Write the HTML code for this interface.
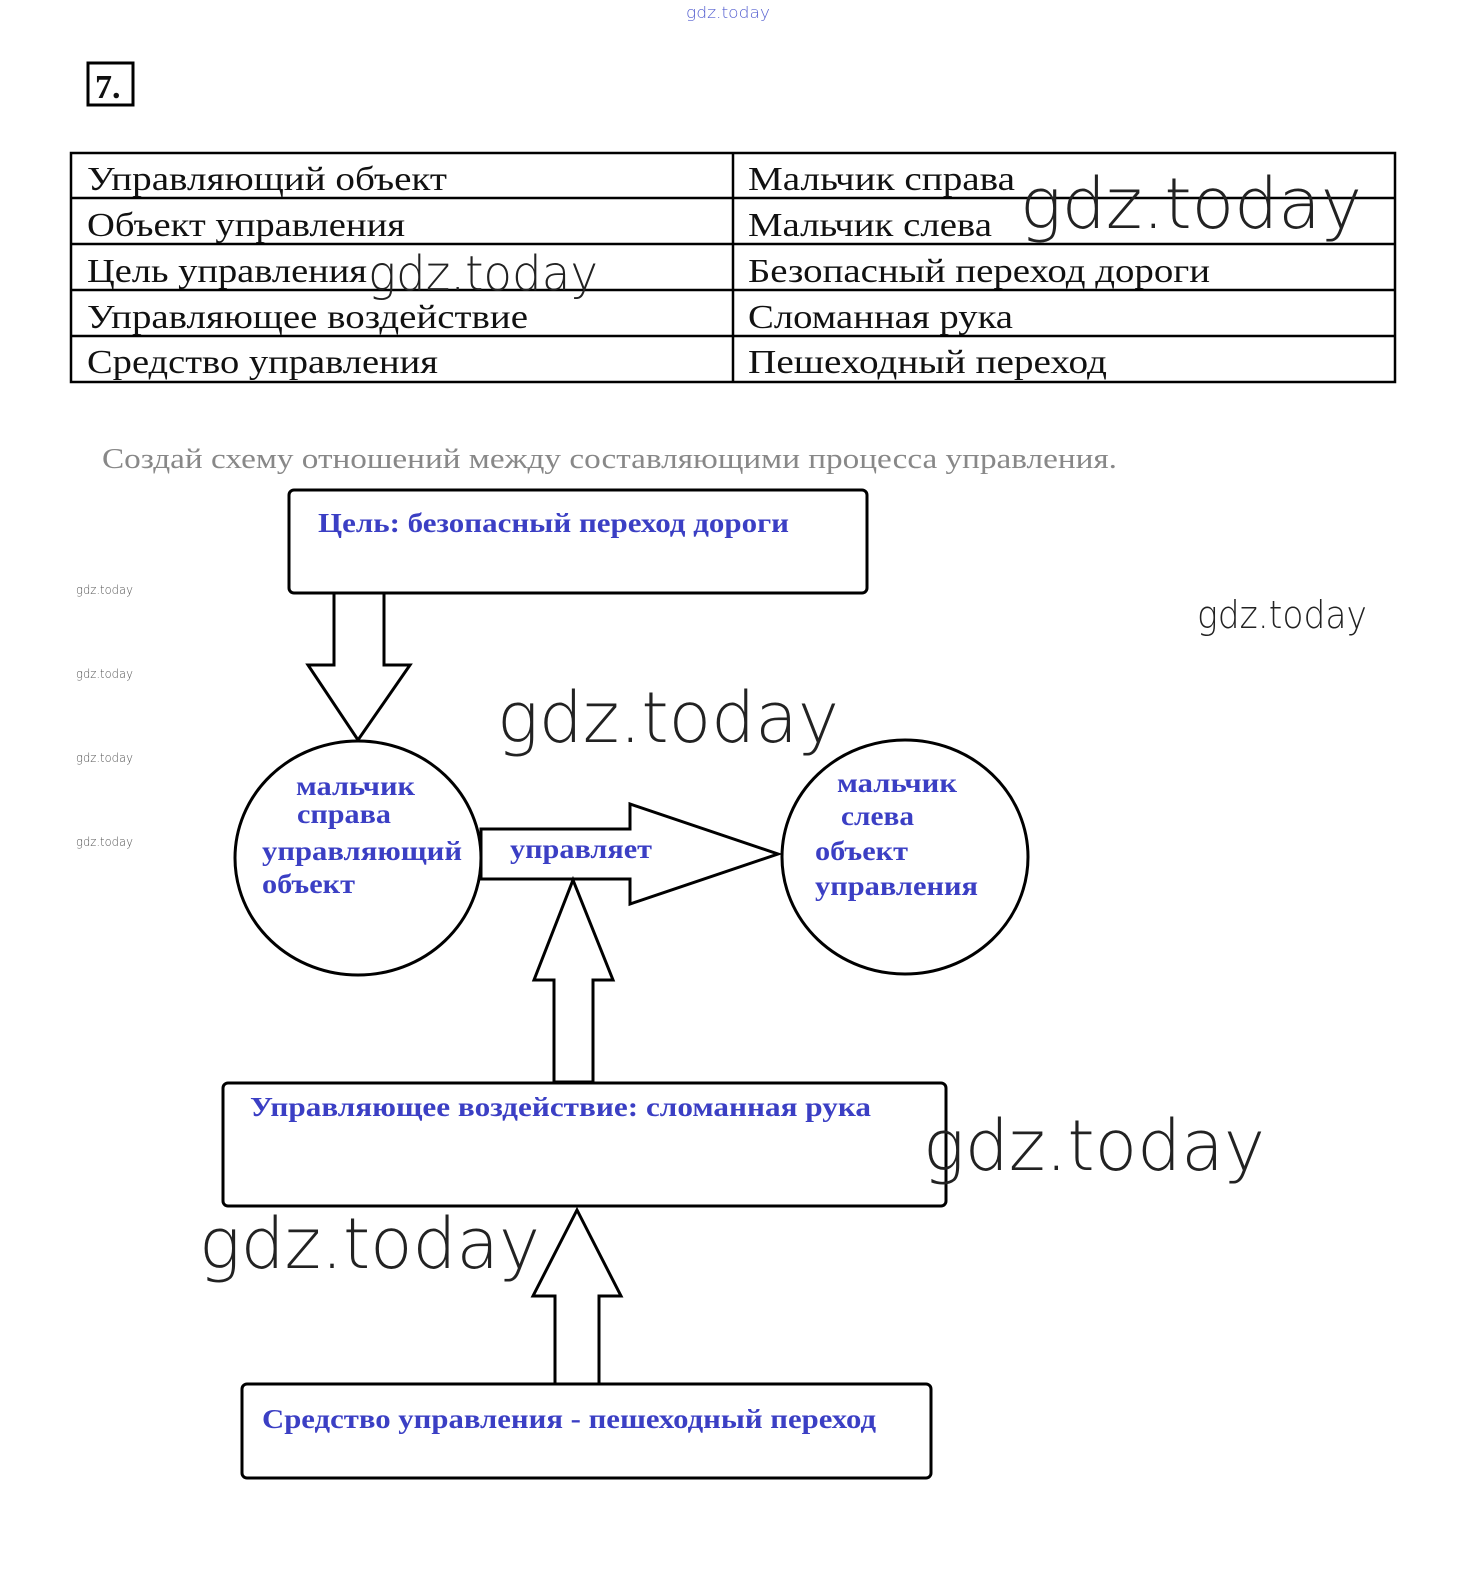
<!DOCTYPE html>
<html><head><meta charset="utf-8"><style>html,body{margin:0;padding:0;background:#fff;overflow:hidden;width:1460px;height:1574px}svg{display:block;position:absolute;left:0;top:0}</style></head><body>
<svg width="1460" height="1574" viewBox="0 0 1460 1574" xmlns="http://www.w3.org/2000/svg">
<g font-family="'Liberation Serif',serif" font-size="34" fill="#111">
<rect x="88" y="63" width="45" height="42" fill="none" stroke="#000" stroke-width="3"/>
<text x="95" y="98" font-weight="bold" font-size="34">7.</text>
<g stroke="#000" stroke-width="2.5" fill="none">
<rect x="71" y="153" width="1324" height="229"/>
<line x1="71" y1="198" x2="1395" y2="198"/><line x1="71" y1="244" x2="1395" y2="244"/>
<line x1="71" y1="290" x2="1395" y2="290"/><line x1="71" y1="336" x2="1395" y2="336"/>
<line x1="733" y1="153" x2="733" y2="382"/>
</g>
<text x="87" y="190" textLength="360" lengthAdjust="spacingAndGlyphs">Управляющий объект</text>
<text x="748" y="190" textLength="267" lengthAdjust="spacingAndGlyphs">Мальчик справа</text>
<text x="87" y="236" textLength="318" lengthAdjust="spacingAndGlyphs">Объект управления</text>
<text x="748" y="236" textLength="244" lengthAdjust="spacingAndGlyphs">Мальчик слева</text>
<text x="87" y="282" textLength="280" lengthAdjust="spacingAndGlyphs">Цель управления</text>
<text x="748" y="282" textLength="462" lengthAdjust="spacingAndGlyphs">Безопасный переход дороги</text>
<text x="87" y="328" textLength="441" lengthAdjust="spacingAndGlyphs">Управляющее воздействие</text>
<text x="748" y="328" textLength="265" lengthAdjust="spacingAndGlyphs">Сломанная рука</text>
<text x="87" y="373" textLength="351" lengthAdjust="spacingAndGlyphs">Средство управления</text>
<text x="748" y="373" textLength="359" lengthAdjust="spacingAndGlyphs">Пешеходный переход</text>
<text x="102" y="468" font-size="28" fill="#888" textLength="1015" lengthAdjust="spacingAndGlyphs">Создай схему отношений между составляющими процесса управления.</text>
</g>
<g stroke="#000" stroke-width="3" fill="#fff">
<rect x="289" y="490" width="578" height="103" rx="5"/>
<polygon points="334,593 384,593 384,665 410,665 358,740 308,665 334,665"/>
<ellipse cx="358" cy="858" rx="123" ry="117"/>
<ellipse cx="905" cy="857" rx="123" ry="117"/>
<polygon points="481,829 630,829 630,804 778,854 630,904 630,879 481,879"/>
<polygon points="573,880 613,980 593,980 593,1082 554,1082 554,980 534,980"/>
<rect x="223" y="1083" width="723" height="123" rx="5"/>
<polygon points="577,1210 621,1296 599,1296 599,1384 555,1384 555,1296 533,1296"/>
<rect x="242" y="1384" width="689" height="94" rx="5"/>
</g>
<g font-family="'Liberation Serif',serif" font-weight="bold" font-size="27" fill="#3b3fc4">
<text x="318" y="532" textLength="471" lengthAdjust="spacingAndGlyphs">Цель:  безопасный переход дороги</text>
<text x="250" y="1116" textLength="621" lengthAdjust="spacingAndGlyphs">Управляющее воздействие:  сломанная рука</text>
<text x="262" y="1428" textLength="614" lengthAdjust="spacingAndGlyphs">Средство управления - пешеходный переход</text>
<text x="296" y="795" textLength="119" lengthAdjust="spacingAndGlyphs">мальчик</text>
<text x="297" y="823" textLength="94" lengthAdjust="spacingAndGlyphs">справа</text>
<text x="262" y="860" textLength="200" lengthAdjust="spacingAndGlyphs">управляющий</text>
<text x="262" y="893" textLength="93" lengthAdjust="spacingAndGlyphs">объект</text>
<text x="510" y="858" textLength="142" lengthAdjust="spacingAndGlyphs">управляет</text>
<text x="837" y="792" textLength="120" lengthAdjust="spacingAndGlyphs">мальчик</text>
<text x="841" y="825" textLength="73" lengthAdjust="spacingAndGlyphs">слева</text>
<text x="815" y="860" textLength="93" lengthAdjust="spacingAndGlyphs">объект</text>
<text x="815" y="895" textLength="163" lengthAdjust="spacingAndGlyphs">управления</text>
</g>
<g font-family="'DejaVu Sans','Liberation Sans',sans-serif" font-weight="200" fill="#222">
<text x="686" y="18" font-size="16" fill="#5560d0" textLength="84" lengthAdjust="spacingAndGlyphs">gdz.today</text>
<text x="1020" y="228" font-size="70" textLength="342" lengthAdjust="spacingAndGlyphs">gdz.today</text>
<text x="368" y="290" font-size="48" textLength="230" lengthAdjust="spacingAndGlyphs">gdz.today</text>
<text x="1197" y="628" font-size="38" textLength="170" lengthAdjust="spacingAndGlyphs">gdz.today</text>
<text x="497" y="742" font-size="70" textLength="342" lengthAdjust="spacingAndGlyphs">gdz.today</text>
<text x="923" y="1170" font-size="70" textLength="342" lengthAdjust="spacingAndGlyphs">gdz.today</text>
<text x="199" y="1268" font-size="70" textLength="341" lengthAdjust="spacingAndGlyphs">gdz.today</text>
<g font-size="12" fill="#555">
<text x="76" y="594" textLength="57" lengthAdjust="spacingAndGlyphs">gdz.today</text>
<text x="76" y="678" textLength="57" lengthAdjust="spacingAndGlyphs">gdz.today</text>
<text x="76" y="762" textLength="57" lengthAdjust="spacingAndGlyphs">gdz.today</text>
<text x="76" y="846" textLength="57" lengthAdjust="spacingAndGlyphs">gdz.today</text>
</g>
</g>
</svg>
</body></html>
